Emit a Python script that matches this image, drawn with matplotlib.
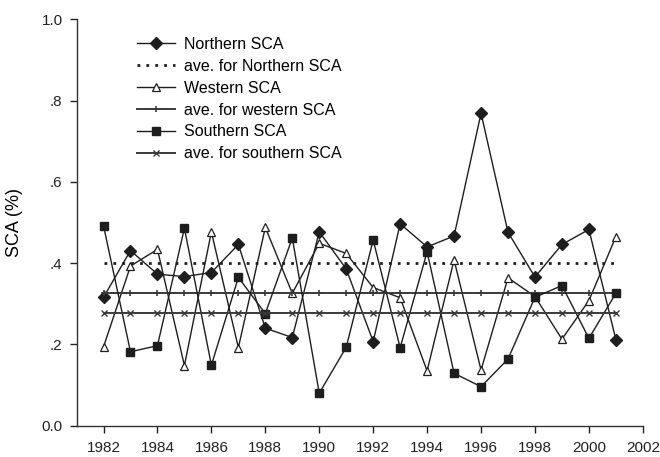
import matplotlib.pyplot as plt
import numpy as np

plt.rcParams['font.family'] = ['Liberation Sans', 'DejaVu Sans']

years = np.arange(1982, 2002)

northern = [0.316, 0.431, 0.373, 0.367, 0.377, 0.446, 0.240, 0.217, 0.477, 0.386,
            0.207, 0.497, 0.440, 0.467, 0.769, 0.476, 0.366, 0.446, 0.483, 0.212]
western = [0.194, 0.393, 0.434, 0.148, 0.477, 0.192, 0.488, 0.326, 0.449, 0.424,
           0.340, 0.315, 0.135, 0.408, 0.137, 0.364, 0.318, 0.213, 0.308, 0.465]
southern = [0.492, 0.182, 0.197, 0.486, 0.149, 0.365, 0.276, 0.462, 0.080, 0.193,
            0.457, 0.192, 0.428, 0.129, 0.096, 0.164, 0.316, 0.345, 0.215, 0.326]

ave_northern = 0.400
ave_western = 0.326
ave_southern = 0.278

xticks = np.arange(1982, 2003, 2)
yticks = [0.0, 0.2, 0.4, 0.6, 0.8, 1.0]
ytick_labels = ['0.0', '.2', '.4', '.6', '.8', '1.0']

fig = plt.figure(figsize=(6.6, 4.57), dpi=100)
ax = fig.add_axes([0.116, 0.0685, 0.858, 0.889])

ink = '#1e1e1e'
flat = np.ones(len(years))

ax.plot(years, northern, color=ink, lw=1.0, marker='D', ms=6,
        mfc=ink, mec=ink, label='Northern SCA')
ax.plot(years, ave_northern * flat, color=ink, lw=2.0, linestyle=(0, (1, 2.2)),
        label='ave. for Northern SCA')
ax.plot(years, western, color=ink, lw=1.0, marker='^', ms=6,
        mfc='white', mec=ink, mew=0.9, label='Western SCA')
ax.plot(years, ave_western * flat, color='#3a3a3a', lw=1.4, marker='+', ms=4,
        mew=1.2, label='ave. for western SCA')
ax.plot(years, southern, color=ink, lw=1.0, marker='s', ms=5.5,
        mfc=ink, mec=ink, label='Southern SCA')
ax.plot(years, ave_southern * flat, color='#3a3a3a', lw=1.4, marker='x', ms=5,
        mew=1.0, label='ave. for southern SCA')

ax.set_xlim(1981, 2002)
ax.set_ylim(0, 1.0)
ax.set_xticks(xticks)
ax.set_yticks(yticks)
ax.set_yticklabels(ytick_labels)
ax.tick_params(direction='out', length=5, width=1, labelsize=11, colors='#222222')
ax.tick_params(axis='x', pad=6)
ax.tick_params(axis='y', pad=5)
for side in ('top', 'right'):
    ax.spines[side].set_visible(False)
for side in ('left', 'bottom'):
    ax.spines[side].set_linewidth(1.0)
    ax.spines[side].set_color('#333333')

ax.set_ylabel('SCA (%)', fontsize=13)
ax.yaxis.set_label_coords(-0.095, 0.5)

ax.legend(loc='upper left', bbox_to_anchor=(137 / 660, 1 - 37 / 457),
          bbox_transform=fig.transFigure, frameon=False, fontsize=11.5,
          handlelength=2.35, handletextpad=0.6, labelspacing=0.43,
          borderpad=0, borderaxespad=0)

fig.savefig('out.png', dpi=100)
